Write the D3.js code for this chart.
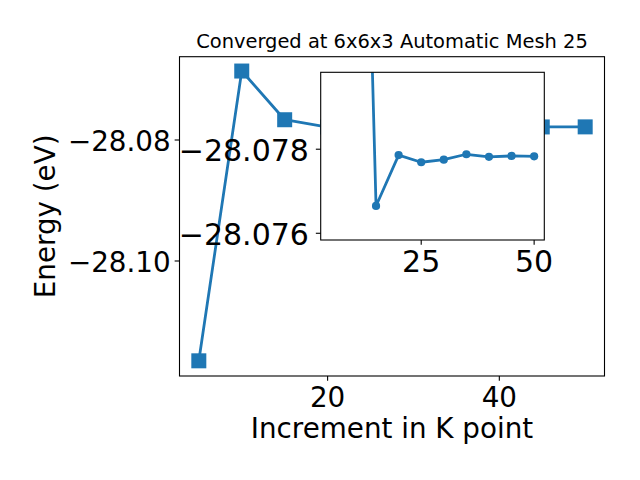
<!DOCTYPE html>
<html>
<head>
<meta charset="utf-8">
<script src="https://cdn.jsdelivr.net/npm/d3@7"></script>
<style>
  html, body { margin: 0; padding: 0; background: #fff; }
  svg { display: block; }
  text { font-family: "DejaVu Sans", sans-serif; fill: #000; }
</style>
</head>
<body>
<svg id="chart" width="640" height="480"></svg>
<script>
// ---- data ----
const kPoints = [5, 10, 15, 20, 25, 30, 35, 40, 45, 50];
const energy = [-28.1165, -28.0686, -28.07665, -28.07786, -28.07769, -28.07775, -28.07788, -28.07782, -28.07784, -28.07783];
const insetK = [5, 15, 20, 25, 30, 35, 40, 45, 50];
const insetEnergy = [-28.1165, -28.07665, -28.07786, -28.07769, -28.07775, -28.07788, -28.07782, -28.07784, -28.07783];
const mainXTicks = [20, 40];
const mainYTicks = [-28.10, -28.08];
const insetXTicks = [25, 50];
const insetYTicks = [-28.078, -28.076];
const titleText = "Converged at 6x6x3 Automatic Mesh 25";
const xLabel = "Increment in K point";
const yLabel = "Energy (eV)";

const color = "#1f77b4";
const svg = d3.select("#chart");
const tickFont = 27.78;
const insetTickFont = 30;

// ---- main axes ----
const M = { left: 179.5, right: 604.5, top: 56.7, bottom: 376 };
const x = d3.scaleLinear().domain([2.75, 52.25]).range([M.left, M.right]);
const y = d3.scaleLinear().domain([-28.11901, -28.06623]).range([M.bottom, M.top]);

const main = svg.append("g");
main.append("clipPath").attr("id", "clipMain").append("rect")
  .attr("x", M.left).attr("y", M.top).attr("width", M.right - M.left).attr("height", M.bottom - M.top);

const pts = kPoints.map((k, i) => [k, energy[i]]);
const line = d3.line().x(d => x(d[0])).y(d => y(d[1]));
const mainPlot = main.append("g").attr("clip-path", "url(#clipMain)");
mainPlot.append("path").datum(pts).attr("d", line)
  .attr("fill", "none").attr("stroke", color).attr("stroke-width", 2.78)
  .attr("stroke-linejoin", "round").attr("stroke-linecap", "square");
const sq = 15;
mainPlot.selectAll("rect.m").data(pts).enter().append("rect")
  .attr("x", d => x(d[0]) - sq / 2).attr("y", d => y(d[1]) - sq / 2)
  .attr("width", sq).attr("height", sq).attr("fill", color);

main.append("rect").attr("x", M.left).attr("y", M.top)
  .attr("width", M.right - M.left).attr("height", M.bottom - M.top)
  .attr("fill", "none").attr("stroke", "#000").attr("stroke-width", 1.1);

// x ticks
main.selectAll("line.xt").data(mainXTicks).enter().append("line")
  .attr("x1", d => x(d)).attr("x2", d => x(d))
  .attr("y1", M.bottom).attr("y2", M.bottom + 4.86)
  .attr("stroke", "#000").attr("stroke-width", 1.1);
main.selectAll("text.xt").data(mainXTicks).enter().append("text")
  .attr("x", d => x(d)).attr("y", M.bottom + 31.4)
  .attr("text-anchor", "middle").attr("font-size", tickFont)
  .text(d => d3.format("d")(d));
// y ticks
main.selectAll("line.yt").data(mainYTicks).enter().append("line")
  .attr("x1", M.left - 4.86).attr("x2", M.left)
  .attr("y1", d => y(d)).attr("y2", d => y(d))
  .attr("stroke", "#000").attr("stroke-width", 1.1);
main.selectAll("text.yt").data(mainYTicks).enter().append("text")
  .attr("x", M.left - 8.8).attr("y", d => y(d) + 11)
  .attr("text-anchor", "end").attr("font-size", tickFont)
  .text(d => d3.format(".2f")(d));

// labels
svg.append("text").attr("x", (M.left + M.right) / 2).attr("y", 438.3)
  .attr("text-anchor", "middle").attr("font-size", tickFont).text(xLabel);
svg.append("text").attr("transform", `translate(54.5, ${(M.top + M.bottom) / 2}) rotate(-90)`)
  .attr("text-anchor", "middle").attr("font-size", tickFont).text(yLabel);
svg.append("text").attr("x", (M.left + M.right) / 2).attr("y", 48.4)
  .attr("text-anchor", "middle").attr("font-size", 19.44).text(titleText);

// ---- inset axes ----
const I = { left: 320.7, right: 544.3, top: 72.3, bottom: 240 };
const xi = d3.scaleLinear().domain([2.75, 52.25]).range([I.left, I.right]);
const yi = d3.scaleLinear().domain([-28.07983, -28.07584]).range([I.top, I.bottom]);

const inset = svg.append("g");
inset.append("clipPath").attr("id", "clipInset").append("rect")
  .attr("x", I.left).attr("y", I.top).attr("width", I.right - I.left).attr("height", I.bottom - I.top);
inset.append("rect").attr("x", I.left).attr("y", I.top)
  .attr("width", I.right - I.left).attr("height", I.bottom - I.top).attr("fill", "#fff");

const ipts = insetK.map((k, i) => [k, insetEnergy[i]]);
const iline = d3.line().x(d => xi(d[0])).y(d => yi(d[1]));
const insetPlot = inset.append("g").attr("clip-path", "url(#clipInset)");
insetPlot.append("path").datum(ipts).attr("d", iline)
  .attr("fill", "none").attr("stroke", color).attr("stroke-width", 2.78)
  .attr("stroke-linejoin", "round").attr("stroke-linecap", "square");
insetPlot.selectAll("circle").data(ipts).enter().append("circle")
  .attr("cx", d => xi(d[0])).attr("cy", d => yi(d[1])).attr("r", 4.1).attr("fill", color);

inset.append("rect").attr("x", I.left).attr("y", I.top)
  .attr("width", I.right - I.left).attr("height", I.bottom - I.top)
  .attr("fill", "none").attr("stroke", "#000").attr("stroke-width", 1.1);

inset.selectAll("line.xt").data(insetXTicks).enter().append("line")
  .attr("x1", d => xi(d)).attr("x2", d => xi(d))
  .attr("y1", I.bottom).attr("y2", I.bottom + 4.86)
  .attr("stroke", "#000").attr("stroke-width", 1.1);
inset.selectAll("text.xt").data(insetXTicks).enter().append("text")
  .attr("x", d => xi(d)).attr("y", I.bottom + 31.8)
  .attr("text-anchor", "middle").attr("font-size", insetTickFont)
  .text(d => d3.format("d")(d));
inset.selectAll("line.yt").data(insetYTicks).enter().append("line")
  .attr("x1", I.left - 4.86).attr("x2", I.left)
  .attr("y1", d => yi(d)).attr("y2", d => yi(d))
  .attr("stroke", "#000").attr("stroke-width", 1.1);
inset.selectAll("text.yt").data(insetYTicks).enter().append("text")
  .attr("x", I.left - 11.8).attr("y", d => yi(d) + 11.5)
  .attr("text-anchor", "end").attr("font-size", insetTickFont)
  .text(d => d3.format(".3f")(d));
</script>
</body>
</html>
